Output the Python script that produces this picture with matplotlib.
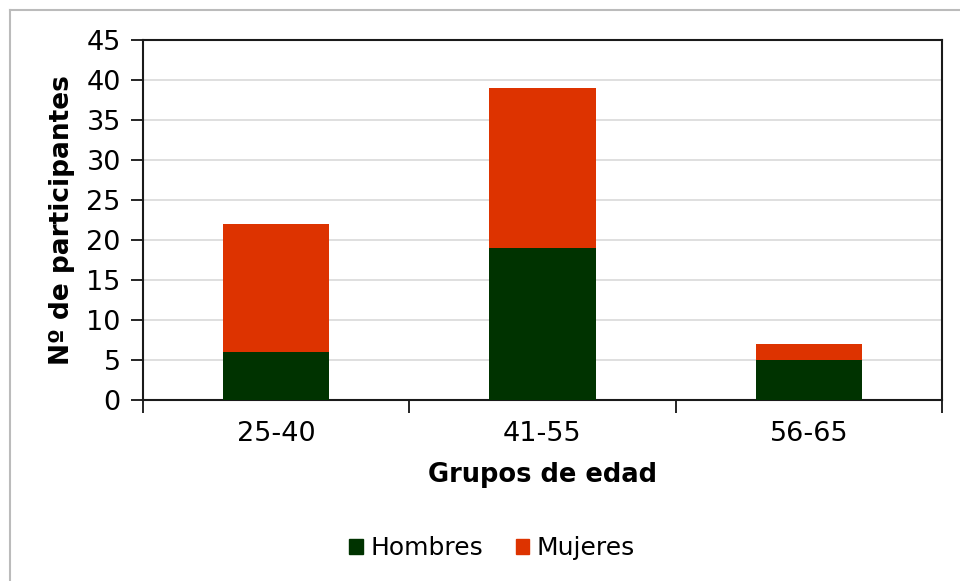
import matplotlib
matplotlib.use("Agg")
import matplotlib.pyplot as plt
from matplotlib.lines import Line2D
from matplotlib.patches import Patch
import numpy as np

# Participants per age group, split by sex
grupos = ["25-40", "41-55", "56-65"]
hombres = [6, 19, 5]
mujeres = [16, 20, 2]
series_names = ["Hombres", "Mujeres"]
y_ticks = [0, 5, 10, 15, 20, 25, 30, 35, 40, 45]

color_h = "#003300"
color_m = "#DD3300"

plt.rcParams["font.family"] = ["DejaVu Sans"]

fig = plt.figure(figsize=(9.6, 5.81), dpi=100)
ax = fig.add_axes([143 / 960, 1 - 400 / 581, (942 - 143) / 960, (400 - 40) / 581])

x = np.arange(len(grupos))
ax.bar(x, hombres, width=0.4, color=color_h, zorder=3)
ax.bar(x, mujeres, width=0.4, bottom=hombres, color=color_m, zorder=3)

ax.set_xlim(-0.5, len(grupos) - 0.5)
ax.set_ylim(0, 45)
ax.set_yticks(y_ticks)
ax.set_yticklabels([str(v) for v in y_ticks], fontsize=19.5)
ax.yaxis.grid(True, color="#D9D9D9", linewidth=1.2, zorder=0)
ax.tick_params(axis="y", direction="out", length=9, width=1.2, pad=7)

# category labels centered, ticks at group boundaries
ax.set_xticks(x)
ax.set_xticklabels(grupos, fontsize=19.5)
ax.tick_params(axis="x", which="major", length=0, pad=15)
ax.set_xticks(np.arange(len(grupos) + 1) - 0.5, minor=True)
ax.tick_params(axis="x", which="minor", direction="out", length=9, width=1.2)

for s in ax.spines.values():
    s.set_linewidth(1.5)
    s.set_color("#1a1a1a")

ax.set_xlabel("Grupos de edad", fontsize=18.5, fontweight="bold", labelpad=11)
ax.set_ylabel("Nº de participantes", fontsize=19, fontweight="bold", labelpad=8)

handles = [Patch(color=color_h), Patch(color=color_m)]
fig.legend(handles, series_names, loc="center", bbox_to_anchor=(492 / 960, 1 - 548 / 581),
           ncol=2, frameon=False, fontsize=18, handlelength=0.55, handleheight=0.55,
           handletextpad=0.3, columnspacing=1.3)

# outer chart frame
fig.add_artist(Line2D([10 / 960, 1.0], [1 - 10 / 581, 1 - 10 / 581], color="#BBBBBB", linewidth=1.5))
fig.add_artist(Line2D([10 / 960, 10 / 960], [0.0, 1 - 10 / 581], color="#BBBBBB", linewidth=1.5))

fig.savefig("out.png", dpi=100, facecolor="white")
